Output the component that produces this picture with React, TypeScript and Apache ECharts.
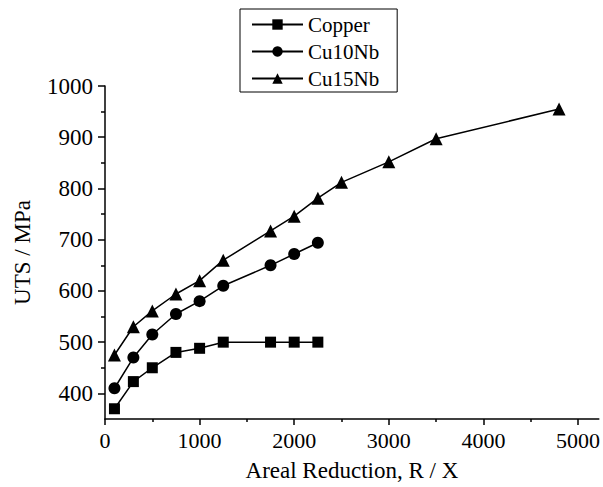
import React, { useEffect, useRef } from "react";
import * as echarts from "echarts";

const copperX = [100, 300, 500, 750, 1000, 1250, 1750, 2000, 2250];
const copperY = [370, 423, 450, 480, 488, 500, 500, 500, 500];
const cu10X = [100, 300, 500, 750, 1000, 1250, 1750, 2000, 2250];
const cu10Y = [410, 470, 515, 555, 580, 610, 650, 672, 694];
const cu15X = [100, 300, 500, 750, 1000, 1250, 1750, 2000, 2250, 2500, 3000, 3500, 4800];
const cu15Y = [475, 530, 561, 594, 620, 660, 717, 746, 781, 812, 852, 897, 955];

const xTicks = [0, 1000, 2000, 3000, 4000, 5000];
const xMinor = [500, 1500, 2500, 3500, 4500];
const yTicks = [400, 500, 600, 700, 800, 900, 1000];
const yMinor = [450, 550, 650, 750, 850, 950];

const FONT = "'Liberation Serif'";

function pairs(xs: number[], ys: number[]) {
  return xs.map((x, i) => [x, ys[i]]);
}

export default function App() {
  const ref = useRef<HTMLDivElement>(null);
  useEffect(() => {
    if (!ref.current) return;
    const chart = echarts.init(ref.current, null, { renderer: "svg" });
    const lineStyle = { color: "#000", width: 1.5 };
    const mk = (name: string, data: number[][], symbol: string, size: number) => ({
      name,
      type: "line",
      data,
      symbol,
      symbolSize: size,
      itemStyle: { color: "#000" },
      lineStyle,
      xAxisIndex: 0,
      yAxisIndex: 0,
    });
    const plain = (v: number) => String(v);
    chart.setOption({
      animation: false,
      backgroundColor: "#fff",
      textStyle: { fontFamily: FONT },
      grid: { left: 105, right: 1, top: 86, bottom: 66, containLabel: false },
      legend: {
        orient: "vertical",
        left: 240,
        top: 9,
        borderColor: "#000",
        borderWidth: 1,
        borderRadius: 0,
        padding: [5, 18, 3, 11],
        itemGap: 6,
        itemWidth: 51,
        itemHeight: 13,
        textStyle: { fontFamily: FONT, fontSize: 21, color: "#000" },
        data: ["Copper", "Cu10Nb", "Cu15Nb"],
      },
      xAxis: [
        {
          type: "value",
          min: 0,
          max: 5220,
          name: "Areal Reduction, R / X",
          nameLocation: "middle",
          nameGap: 40,
          nameMoveOverlap: false,
          nameTextStyle: { fontFamily: FONT, fontSize: 23, color: "#000" },
          axisLine: { show: true, lineStyle: { color: "#000", width: 1.5 } },
          axisTick: { show: true, length: 6, customValues: xTicks, lineStyle: { color: "#000", width: 1.5 } },
          axisLabel: { customValues: xTicks, formatter: plain, fontFamily: FONT, fontSize: 22, color: "#000", margin: 10 },
          splitLine: { show: false },
        },
        {
          type: "value",
          min: 0,
          max: 5220,
          position: "bottom",
          axisLine: { show: false },
          axisTick: { show: true, length: 3, customValues: xMinor, lineStyle: { color: "#000", width: 1.5 } },
          axisLabel: { show: false },
          splitLine: { show: false },
        },
      ],
      yAxis: [
        {
          type: "value",
          min: 350,
          max: 1000,
          name: "UTS / MPa",
          nameLocation: "middle",
          nameGap: 71,
          nameRotate: 90,
          nameMoveOverlap: false,
          nameTextStyle: { fontFamily: FONT, fontSize: 23, color: "#000" },
          axisLine: { show: true, lineStyle: { color: "#000", width: 1.5 } },
          axisTick: { show: true, length: 7, customValues: yTicks, lineStyle: { color: "#000", width: 1.5 } },
          axisLabel: { customValues: yTicks, formatter: plain, fontFamily: FONT, fontSize: 23, color: "#000", margin: 12 },
          splitLine: { show: false },
        },
        {
          type: "value",
          min: 350,
          max: 1000,
          position: "left",
          axisLine: { show: false },
          axisTick: { show: true, length: 4, customValues: yMinor, lineStyle: { color: "#000", width: 1.5 } },
          axisLabel: { show: false },
          splitLine: { show: false },
        },
      ],
      series: [
        mk("Copper", pairs(copperX, copperY), "rect", 11),
        mk("Cu10Nb", pairs(cu10X, cu10Y), "circle", 12),
        mk("Cu15Nb", pairs(cu15X, cu15Y), "triangle", 13),
      ],
    });
    return () => chart.dispose();
  }, []);
  return <div ref={ref} style={{ width: 603, height: 487, position: "absolute", left: 0, top: 0 }} />;
}
